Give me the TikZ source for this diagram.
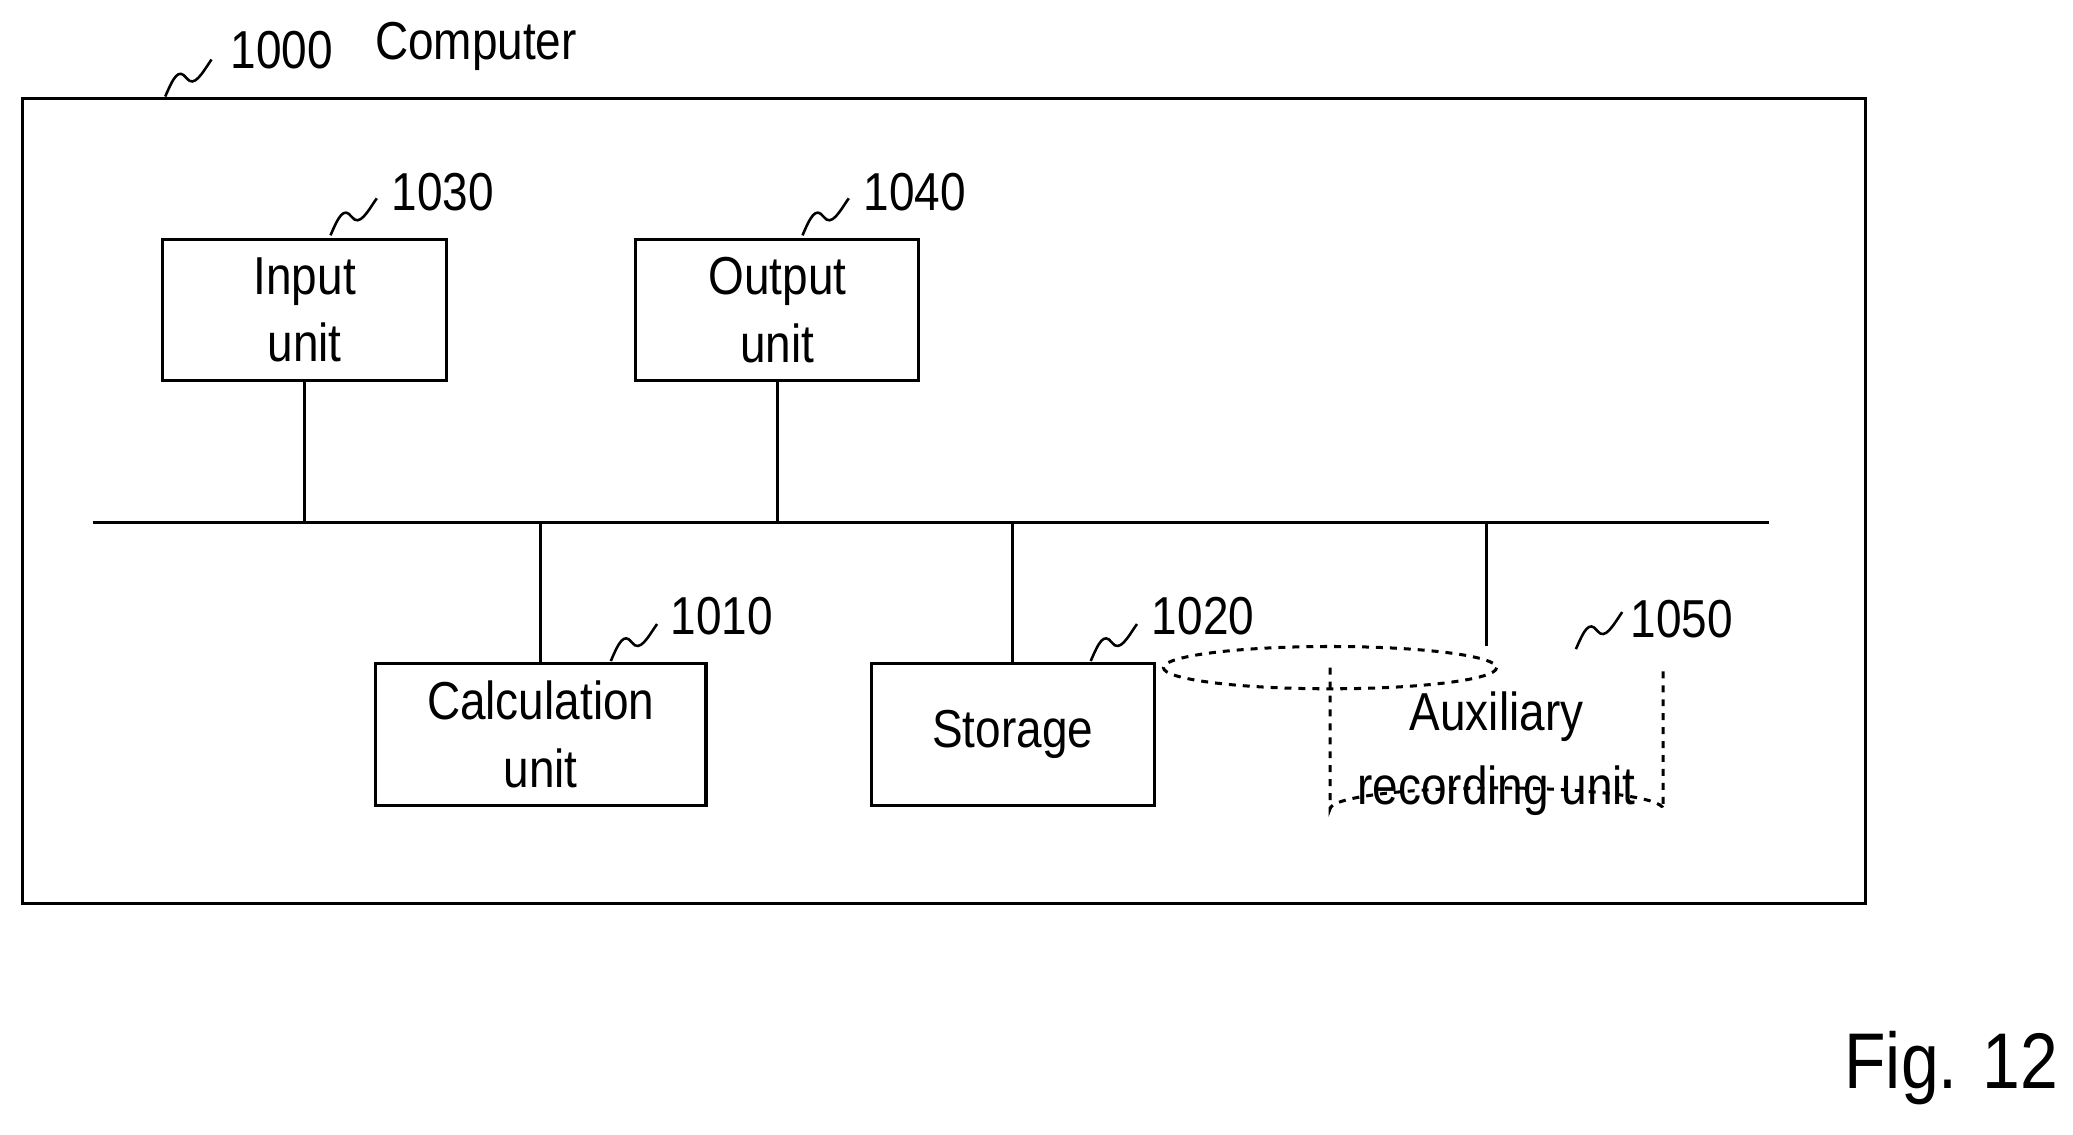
\documentclass[tikz,border=0pt]{standalone}
\usepackage{fontspec}
\setmainfont[FakeStretch=0.86]{Liberation Sans}
\begin{document}
\begin{tikzpicture}[x=0.02cm,y=-0.02cm,line width=1.3pt,
  box/.style={draw,line width=1.3pt,inner sep=0pt,align=center,font=\fontsize{23}{29}\selectfont},
  lab/.style={font=\fontsize{23}{28}\selectfont,inner sep=0pt},
  sq/.style={line width=1.1pt}]
\useasboundingbox (0,0) rectangle (1568,858);
\newcommand{\squig}[2]{\draw[sq] (#1,#2) .. controls (#1+6,#2-14) and (#1+10,#2-22) .. (#1+16,#2-14) .. controls (#1+22,#2-6) and (#1+28,#2-18) .. (#1+35,#2-28);}
\node[draw,line width=1.3pt,minimum width=1394*0.02cm,minimum height=609*0.02cm,anchor=north west] (comp) at (16,73) {};
\squig{125}{73}
\node[lab] (n1000) at (213,38) {1000};
\node[lab] (ncomp) at (360,35) {Computer};
\node[box,minimum width=215*0.02cm,minimum height=107*0.02cm] (in) at (230.5,234.5) {Input\\unit};
\node[box,minimum width=214*0.02cm,minimum height=107*0.02cm] (out) at (588,234.5) {Output\\unit};
\node[box,minimum width=250*0.02cm,minimum height=107*0.02cm] (calc) at (409,555.5) {Calculation\\unit};
\node[box,minimum width=214*0.02cm,minimum height=107*0.02cm] (st) at (766,555.5) {Storage};
\coordinate (bl) at (70,395); \coordinate (br) at (1338,395);
\draw (bl) -- (br);
\draw (in.south) -- (in.south |- bl);
\draw (out.south) -- (out.south |- bl);
\draw (calc.north) -- (calc.north |- bl);
\draw (st.north) -- (st.north |- bl);
% cylinder
\draw[dashed,line width=1.3pt] (1006,505) ellipse [x radius=126, y radius=16];
\draw[dashed,line width=1.3pt] (1006,505) -- (1006,612) arc[start angle=180,end angle=360,x radius=126,y radius=16] -- (1258,505);
\node[lab,align=center,font=\fontsize{23}{32}\selectfont] (aux) at (1132,570) {Auxiliary\\recording unit};
\coordinate (auxtop) at (1124,489);
\draw (auxtop) -- (auxtop |- bl);
\squig{250}{178}\node[lab] (n1030) at (335,145) {1030};
\squig{607}{178}\node[lab] (n1040) at (692,145) {1040};
\squig{462}{500}\node[lab] (n1010) at (546,466) {1010};
\squig{825}{500}\node[lab] (n1020) at (910,466) {1020};
\squig{1192}{491}\node[lab] (n1050) at (1272,468) {1050};
\node[lab,font=\fontsize{34}{40}\selectfont] (fig) at (1476,808) {Fig. 12};
\end{tikzpicture}
\end{document}
